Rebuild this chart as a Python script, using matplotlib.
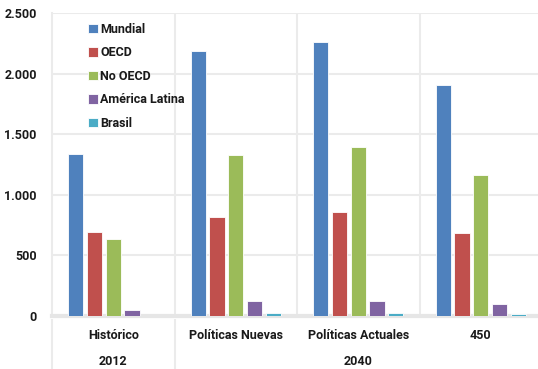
import matplotlib.pyplot as plt
import numpy as np
from matplotlib.ticker import FuncFormatter, MultipleLocator
import matplotlib.transforms as mtransforms

plt.rcParams['font.family'] = ['Roboto', 'DejaVu Sans']
plt.rcParams['font.weight'] = 'bold'

# Data
scenarios = ['Histórico', 'Políticas Nuevas', 'Políticas Actuales', '450']
years = ['2012', '2040']
series = ['Mundial', 'OECD', 'No OECD', 'América Latina', 'Brasil']
mundial = [1335, 2190, 2265, 1910]
oecd = [690, 820, 855, 680]
no_oecd = [630, 1330, 1395, 1165]
america_latina = [50, 125, 120, 95]
brasil = [0, 25, 20, 10]
colors = ['#4F81BD', '#C0504D', '#9BBB59', '#8064A2', '#4BACC6']

values = [mundial, oecd, no_oecd, america_latina, brasil]
text_color = '#1a1a1a'
grid_color = '#ebebeb'

fig = plt.figure(figsize=(5.38, 3.69), dpi=100)
ax = fig.add_axes([52 / 538, (369 - 315.7) / 369, 490 / 538, 302.4 / 369])

x = np.arange(len(scenarios)) + 0.5
step = 0.153
width = 0.125
for i, (name, vals, c) in enumerate(zip(series, values, colors)):
    ax.bar(x + (i - 2) * step, vals, width, color=c, edgecolor='white',
           linewidth=0.6, label=name, zorder=3)

ax.set_xlim(0, 4)
ax.set_ylim(0, 2500)
ax.yaxis.set_major_locator(MultipleLocator(500))
ax.yaxis.set_major_formatter(FuncFormatter(lambda v, p: f'{int(v):,}'.replace(',', '.')))
ax.tick_params(axis='y', length=0, pad=11, labelsize=9, labelcolor=text_color)
ax.set_xticks([])
for lab in ax.get_yticklabels():
    lab.set_fontweight('bold')

ax.grid(axis='y', color=grid_color, linewidth=1.5, zorder=0)
for b in [1, 2, 3]:
    ax.axvline(b, color=grid_color, linewidth=1.5, zorder=0)

for s in ['top', 'right']:
    ax.spines[s].set_visible(False)
ax.spines['left'].set_color(grid_color)
ax.spines['left'].set_linewidth(1.5)
ax.spines['bottom'].set_color('#e6e6e6')
ax.spines['bottom'].set_linewidth(3)

# multi-level category labels
trans = mtransforms.blended_transform_factory(ax.transData, ax.transAxes)
for xi, s in zip(x, scenarios):
    ax.text(xi, -0.067, s, transform=trans, ha='center', va='center',
            fontsize=9, fontweight='bold', color=text_color)
ax.text(0.5, -0.153, years[0], transform=trans, ha='center', va='center',
        fontsize=9, fontweight='bold', color=text_color)
ax.text(2.5, -0.153, years[1], transform=trans, ha='center', va='center',
        fontsize=9, fontweight='bold', color=text_color)
for b in [0, 1]:
    ax.plot([b, b], [-0.015, -0.2], transform=trans, color=grid_color,
            linewidth=1.5, clip_on=False)

leg = ax.legend(loc='upper left', bbox_to_anchor=(0.073, 0.968), frameon=False,
                fontsize=9, handlelength=0.8, handleheight=0.8,
                handletextpad=0.2, labelspacing=0.84, borderpad=0, borderaxespad=0)
for t in leg.get_texts():
    t.set_color(text_color)
    t.set_fontweight('bold')

fig.savefig('out.png', dpi=100)
